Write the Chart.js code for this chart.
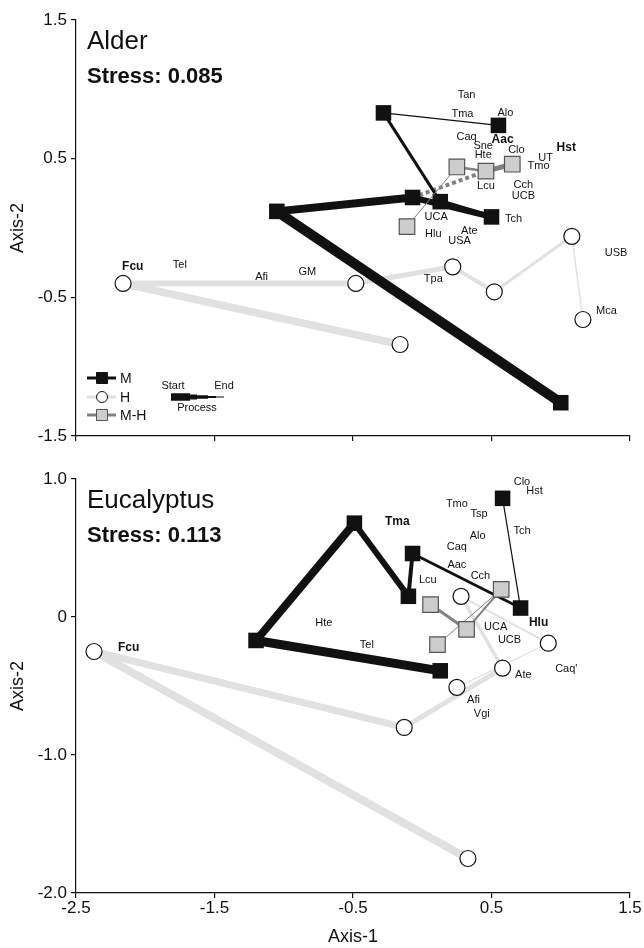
<!DOCTYPE html>
<html lang="en">
<head>
  <meta charset="UTF-8" />
  <title>NMDS trajectories - Alder and Eucalyptus</title>
  <script src="https://cdn.jsdelivr.net/npm/chart.js"></script>
  <style>
    body { margin: 0; background: #fff; }
    .panel { position: absolute; left: 0; width: 644px; }
    #top { top: 0; height: 460px; }
    #bottom { top: 460px; height: 488px; }
  </style>
</head>
<body>
  <div class="panel" id="top"><canvas id="alderChart"></canvas></div>
  <div class="panel" id="bottom"><canvas id="eucChart"></canvas></div>

  <script>
    // axis ticks
    const xTicks = [-2.5, -1.5, -0.5, 0.5, 1.5];
    const alderYTicks = [1.5, 0.5, -0.5, -1.5];
    const alderYLabels = ['1.5', '0.5', '-0.5', '-1.5'];
    const eucYTicks = [1.0, 0, -1.0, -2.0];
    const eucYLabels = ['1.0', '0', '-1.0', '-2.0'];

    // Alder trajectories (start -> end of process)
    const alderMX = [1.00, -1.05, -0.07, 0.50, 0.13, -0.28, 0.55];
    const alderMY = [-1.26, 0.12, 0.22, 0.08, 0.19, 0.83, 0.74];
    const alderHX = [-0.16, -2.16, -0.48, 0.22, 0.52, 1.08, 1.16];
    const alderHY = [-0.84, -0.40, -0.40, -0.28, -0.46, -0.06, -0.66];
    const alderMHX = [0.65, 0.46, 0.25, -0.11];
    const alderMHY = [0.46, 0.41, 0.44, 0.01];

    // Alder species scores
    const alderSp = ['Tan', 'Tma', 'Alo', 'Caq', 'Aac', 'Sne', 'Hte', 'Clo', 'Hst', 'UT', 'Tmo', 'Lcu', 'Cch',
      'UCB', 'UCA', 'Tch', 'Hlu', 'Ate', 'USA', 'USB', 'GM', 'Tpa', 'Mca', 'Fcu', 'Tel', 'Afi'];
    const alderSpX = [0.32, 0.29, 0.60, 0.32, 0.58, 0.44, 0.44, 0.68, 1.04, 0.89, 0.84, 0.46, 0.73,
      0.73, 0.10, 0.66, 0.08, 0.34, 0.27, 1.40, -0.83, 0.08, 1.33, -2.09, -1.75, -1.16];
    const alderSpY = [0.96, 0.82, 0.83, 0.66, 0.64, 0.59, 0.53, 0.56, 0.58, 0.505, 0.45, 0.30, 0.31,
      0.23, 0.08, 0.065, -0.04, -0.02, -0.09, -0.18, -0.32, -0.37, -0.60, -0.28, -0.27, -0.35];
    const alderBold = ['Aac', 'Hst', 'Fcu'];

    // Eucalyptus trajectories
    const eucMX = [0.13, -1.20, -0.49, -0.10, -0.07, 0.71, 0.58];
    const eucMY = [-0.39, -0.17, 0.68, 0.15, 0.46, 0.065, 0.86];
    const eucHX = [0.33, -2.37, -0.13, 0.58, 0.28, 0.91, 0.25];
    const eucHY = [-1.75, -0.25, -0.80, -0.37, 0.15, -0.19, -0.51];
    const eucMHX = [0.06, 0.32, 0.57, 0.11];
    const eucMHY = [0.09, -0.09, 0.20, -0.20];

    // Eucalyptus species scores
    const eucSp = ['Clo', 'Hst', 'Tmo', 'Tsp', 'Tch', 'Tma', 'Alo', 'Caq', 'Aac', 'Cch', 'Lcu', 'Hlu',
      'UCA', 'UCB', 'Hte', 'Tel', 'Ate', "Caq'", 'Afi', 'Vgi', 'Fcu'];
    const eucSpX = [0.72, 0.81, 0.25, 0.41, 0.72, -0.18, 0.40, 0.25, 0.25, 0.42, 0.04, 0.84,
      0.53, 0.63, -0.71, -0.40, 0.73, 1.04, 0.37, 0.43, -2.12];
    const eucSpY = [0.98, 0.91, 0.82, 0.75, 0.62, 0.69, 0.59, 0.51, 0.38, 0.30, 0.27, -0.04,
      -0.07, -0.17, -0.04, -0.20, -0.42, -0.38, -0.60, -0.70, -0.22];
    const eucBold = ['Tma', 'Hlu', 'Fcu'];

    // line width per step, thick at start, thin at end
    const alderMW = [10, 8, 6, 5, 3, 1.3];
    const alderHW = [7.5, 6, 5, 4, 3, 1.5];
    const alderMHW = [5, 2.5, 1];
    const eucMW = [9, 8, 6, 4, 2.7, 1.2];
    const eucHW = [8, 7, 5, 3.5, 2, 1.2];
    const eucMHW = [3, 2, 1];

    const FONT = "'Liberation Sans', Arial, Helvetica, sans-serif";
    const INK = '#111';
    const H_LINE = '#e1e1e1';
    const MH_LINE = '#808080';
    const MH_FILL = '#cdcdcd';
    Chart.defaults.font.family = FONT;
    Chart.defaults.color = INK;

    const pts = (xs, ys) => xs.map((x, i) => ({ x: x, y: ys[i] }));

    function textPlugin(o) {
      return {
        id: 'texts',
        afterDatasetsDraw(chart) {
          const { ctx, chartArea: a, scales: { x, y } } = chart;
          ctx.save();
          ctx.fillStyle = INK;
          ctx.textAlign = 'center';
          ctx.textBaseline = 'middle';
          o.sp.forEach((n, i) => {
            ctx.font = (o.bold.includes(n) ? 'bold 12px ' : '11px ') + FONT;
            ctx.fillText(n, x.getPixelForValue(o.sx[i]), y.getPixelForValue(o.sy[i]));
          });
          ctx.textAlign = 'left';
          ctx.textBaseline = 'alphabetic';
          ctx.font = '26px ' + FONT;
          ctx.fillText(o.title, a.left + 11, a.top + 29);
          ctx.font = 'bold 22px ' + FONT;
          ctx.fillText(o.stress, a.left + 11, a.top + 63);

          if (o.legend) {
            const L = a.left, B = a.bottom;
            const rows = [
              { t: 'M', y: B - 58, line: INK, kind: 'rect', fill: INK, edge: INK },
              { t: 'H', y: B - 39, line: H_LINE, kind: 'circle', fill: '#fff', edge: INK },
              { t: 'M-H', y: B - 21, line: MH_LINE, kind: 'rect', fill: MH_FILL, edge: '#555' }
            ];
            rows.forEach(r => {
              ctx.strokeStyle = r.line;
              ctx.lineWidth = 3;
              ctx.beginPath();
              ctx.moveTo(L + 11, r.y);
              ctx.lineTo(L + 40, r.y);
              ctx.stroke();
              ctx.fillStyle = r.fill;
              ctx.strokeStyle = r.edge;
              ctx.lineWidth = 1;
              ctx.beginPath();
              if (r.kind === 'rect') ctx.rect(L + 20.5, r.y - 5.5, 11, 11);
              else ctx.arc(L + 26, r.y, 5.5, 0, Math.PI * 2);
              ctx.fill();
              ctx.stroke();
              ctx.fillStyle = INK;
              ctx.font = '14px ' + FONT;
              ctx.textBaseline = 'middle';
              ctx.fillText(r.t, L + 44, r.y + 1);
            });
            // process key: tapering bar
            const steps = [[19, 7.5], [7, 5], [11, 3.5], [8, 2], [8, 1]];
            let px = L + 95;
            const py = B - 39;
            ctx.fillStyle = INK;
            steps.forEach(([w, h]) => {
              ctx.fillRect(px, py - h / 2, w, h);
              px += w;
            });
            ctx.font = '11px ' + FONT;
            ctx.textAlign = 'center';
            ctx.fillText('Start', L + 97, B - 50);
            ctx.fillText('End', L + 148, B - 50);
            ctx.fillText('Process', L + 121, B - 28);
          }
          ctx.restore();
        }
      };
    }

    function datasets(o) {
      return [
        {
          label: 'M-H', order: 1, data: pts(o.mhX, o.mhY), showLine: true,
          borderColor: MH_LINE, borderWidth: 1,
          segment: { borderWidth: c => o.mhW[c.p0DataIndex] },
          pointStyle: 'rect', pointRadius: 11, pointBackgroundColor: MH_FILL,
          pointBorderColor: '#555', pointBorderWidth: 1.2
        },
        {
          label: 'M', order: 2, data: pts(o.mX, o.mY), showLine: true,
          borderColor: INK, borderWidth: 1,
          segment: { borderWidth: c => o.mW[c.p0DataIndex] },
          pointStyle: 'rect', pointRadius: 11, pointBackgroundColor: INK,
          pointBorderColor: INK, pointBorderWidth: 0
        },
        ...o.extra,
        {
          label: 'H', order: 4, data: pts(o.hX, o.hY), showLine: true,
          borderColor: H_LINE, borderWidth: 1,
          segment: { borderWidth: c => o.hW[c.p0DataIndex] },
          pointStyle: 'circle', pointRadius: 8, pointBackgroundColor: '#fff',
          pointBorderColor: INK, pointBorderWidth: 1.2
        }
      ];
    }

    function axes(o) {
      return {
        x: {
          type: 'linear', min: -2.5, max: 1.5,
          afterBuildTicks: s => { s.ticks = xTicks.map(v => ({ value: v })); },
          afterFit: s => { s.height = o.xHeight; },
          ticks: {
            display: o.xLabels, autoSkip: false, maxRotation: 0, padding: 0,
            font: { size: 17 }, color: INK, callback: v => v.toFixed(1)
          },
          grid: { drawOnChartArea: false, tickLength: 5, color: INK, lineWidth: 1.2 },
          border: { color: INK, width: 1.2 },
          title: { display: o.xLabels, text: 'Axis-1', font: { size: 18 }, color: INK, padding: { top: 0, bottom: 0 } }
        },
        y: {
          type: 'linear', min: o.yMin, max: o.yMax,
          afterBuildTicks: s => { s.ticks = o.yTicks.map(v => ({ value: v })); },
          afterFit: s => { s.width = 76; },
          ticks: {
            autoSkip: false, padding: 4, font: { size: 17 }, color: INK,
            callback: v => o.yLabels[o.yTicks.indexOf(v)]
          },
          grid: { drawOnChartArea: false, tickLength: 5, color: INK, lineWidth: 1.2 },
          border: { color: INK, width: 1.2 },
          title: { display: true, text: 'Axis-2', font: { size: 18 }, color: INK, padding: { top: 7, bottom: 0 } }
        }
      };
    }

    function makeChart(id, o) {
      return new Chart(document.getElementById(id), {
        type: 'scatter',
        data: { datasets: datasets(o) },
        options: {
          responsive: true,
          maintainAspectRatio: false,
          animation: false,
          events: [],
          clip: false,
          layout: { padding: { top: o.padTop, right: 14, left: 0, bottom: 0 } },
          elements: { line: { tension: 0, borderCapStyle: 'butt' } },
          plugins: { legend: { display: false }, tooltip: { enabled: false } },
          scales: axes(o)
        },
        plugins: [textPlugin(o)]
      });
    }

    makeChart('alderChart', {
      mX: alderMX, mY: alderMY, mW: alderMW,
      hX: alderHX, hY: alderHY, hW: alderHW,
      mhX: alderMHX, mhY: alderMHY, mhW: alderMHW,
      extra: [{
        label: 'link', order: 3, showLine: true, pointRadius: 0,
        data: [{ x: alderMX[2], y: alderMY[2] }, { x: alderMHX[1], y: alderMHY[1] }],
        borderColor: MH_LINE, borderWidth: 4, borderDash: [4, 3]
      }],
      sp: alderSp, sx: alderSpX, sy: alderSpY, bold: alderBold,
      title: 'Alder', stress: 'Stress: 0.085', legend: true,
      yMin: -1.5, yMax: 1.5, yTicks: alderYTicks, yLabels: alderYLabels,
      xLabels: false, xHeight: 24, padTop: 20
    });

    makeChart('eucChart', {
      mX: eucMX, mY: eucMY, mW: eucMW,
      hX: eucHX, hY: eucHY, hW: eucHW,
      mhX: eucMHX, mhY: eucMHY, mhW: eucMHW,
      extra: [],
      sp: eucSp, sx: eucSpX, sy: eucSpY, bold: eucBold,
      title: 'Eucalyptus', stress: 'Stress: 0.113', legend: false,
      yMin: -2.0, yMax: 1.0, yTicks: eucYTicks, yLabels: eucYLabels,
      xLabels: true, xHeight: 55, padTop: 19
    });
  </script>
</body>
</html>
